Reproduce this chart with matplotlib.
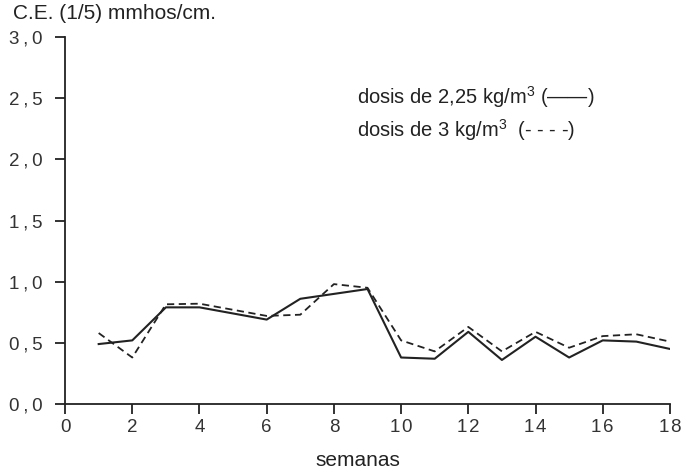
import numpy as np
import matplotlib.pyplot as plt

plt.rcParams['font.family'] = ['Liberation Sans', 'DejaVu Sans']
plt.rcParams['mathtext.fontset'] = 'custom'
plt.rcParams['mathtext.rm'] = 'Liberation Sans'

# data
semanas = [1, 2, 3, 4, 5, 6, 7, 8, 9, 10, 11, 12, 13, 14, 15, 16, 17, 18]
dosis_225 = [0.49, 0.52, 0.79, 0.79, 0.74, 0.69, 0.86, 0.90, 0.94, 0.38, 0.37,
             0.59, 0.36, 0.55, 0.38, 0.52, 0.51, 0.45]
dosis_3 = [0.58, 0.38, 0.815, 0.82, 0.77, 0.72, 0.73, 0.98, 0.95, 0.52, 0.43,
           0.63, 0.43, 0.59, 0.46, 0.555, 0.57, 0.51]

xticks = [0, 2, 4, 6, 8, 10, 12, 14, 16, 18]
xtick_labels = ["0", "2", "4", "6", "8", "1\u200a0", "1\u200a2", "1\u200a4", "1\u200a6", "1\u200a8"]
yticks = [0.0, 0.5, 1.0, 1.5, 2.0, 2.5, 3.0]
ytick_labels = ["0\u2009,\u20090", "0\u2009,\u20095", "1\u2009,\u20090", "1\u2009,\u20095",
                "2\u2009,\u20090", "2\u2009,\u20095", "3\u2009,\u20090"]

fig = plt.figure(figsize=(6.85, 4.69), dpi=100)
ax = fig.add_axes([0.095, 0.1386, 0.883, 0.7825])

ax.plot(semanas, dosis_225, color="#222222", lw=1.5, ls="-")
ax.plot(semanas, dosis_3, color="#222222", lw=1.3, ls=(0, (4, 2.5)))

ax.set_xlim(0, 18)
ax.set_ylim(0, 3.0)
ax.set_xticks(xticks)
ax.set_xticklabels(xtick_labels)
ax.set_yticks(yticks)
ax.set_yticklabels(ytick_labels)

for s in ["top", "right"]:
    ax.spines[s].set_visible(False)
for s in ["left", "bottom"]:
    ax.spines[s].set_linewidth(1.3)
    ax.spines[s].set_color("#222222")

ax.tick_params(axis="both", direction="out", length=7.5, width=1.3,
               color="#222222", labelsize=13.5, labelcolor="#333333")
ax.tick_params(axis="x", pad=3)
ax.tick_params(axis="y", pad=9)

ax.text(0.483, 0.836, "dosis de 2,25 kg/m$^3$ (\u2014\u2014)", transform=ax.transAxes,
        fontsize=14.5, color="#222222", va="center", ha="left")
ax.text(0.483, 0.747, "dosis de 3 kg/m$^3$  (- - - -)", transform=ax.transAxes,
        fontsize=14.5, color="#222222", va="center", ha="left")

fig.text(0.019, 0.972, "C.E. (1/5) mmhos/cm.", fontsize=15, color="#222222",
         va="center", ha="left")
fig.text(0.523, 0.019, "semanas", fontsize=15, color="#222222",
         va="center", ha="center")

fig.savefig("out.png", dpi=100)
